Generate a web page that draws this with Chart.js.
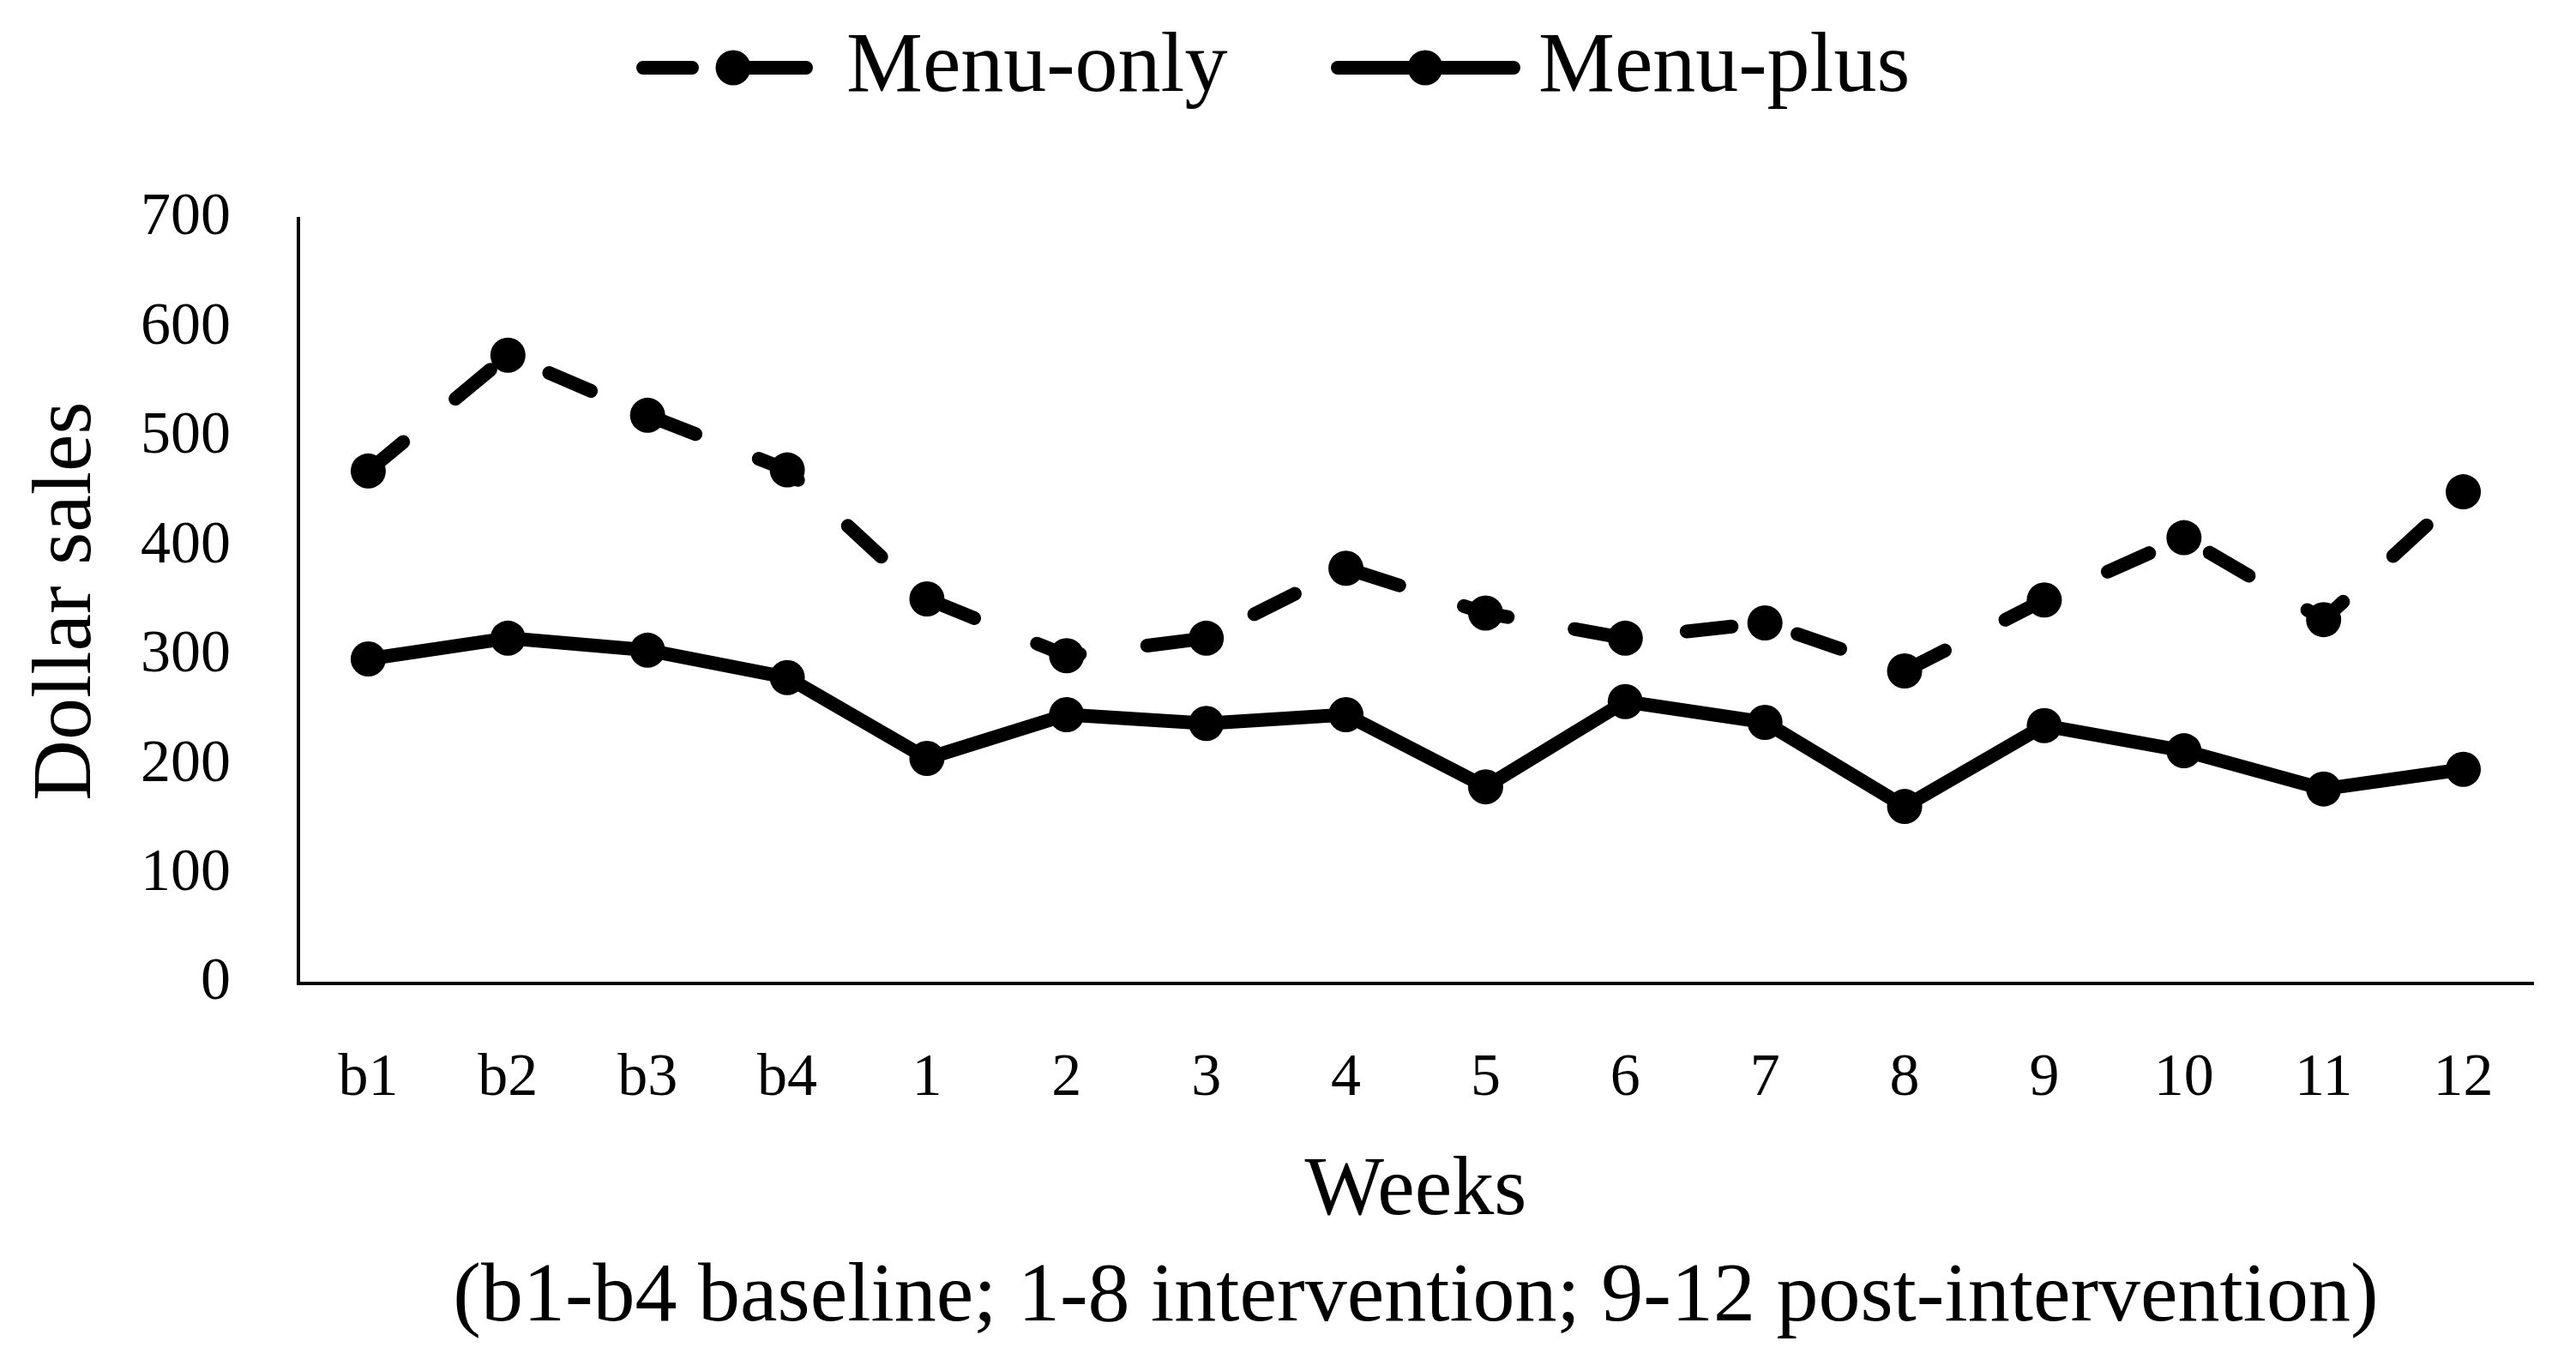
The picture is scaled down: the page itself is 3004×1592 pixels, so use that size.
<!DOCTYPE html>
<html>
<head>
<meta charset="utf-8">
<script src="https://cdn.jsdelivr.net/npm/chart.js@4.4.1/dist/chart.umd.min.js"></script>
<style>
  html, body { margin: 0; padding: 0; background: #ffffff; }
  #wrap { width: 3004px; height: 1592px; }
</style>
</head>
<body>
<div id="wrap"><canvas id="c" width="3004" height="1592"></canvas></div>
<script>
// ---- data ----
const weeks = ['b1', 'b2', 'b3', 'b4', '1', '2', '3', '4', '5', '6', '7', '8', '9', '10', '11', '12'];
const menuOnly = [469, 575, 520, 470, 352, 300, 316, 380, 339, 316, 330, 286, 351, 408, 333, 450];
const menuPlus = [297, 316, 305, 280, 206, 246, 238, 246, 180, 258, 239, 162, 236, 213, 178, 196];
const seriesNames = ['Menu-only', 'Menu-plus'];
const yMin = 0, yMax = 700, yStep = 100;
const xTitle = ['Weeks', '(b1-b4 baseline; 1-8 intervention; 9-12 post-intervention)'];
const yTitle = 'Dollar sales';

// ---- style ----
const FONT = '"Liberation Serif", "Times New Roman", serif';
const INK = '#000000';

// legend drawn from the datasets' own styles
const legendPlugin = {
  id: 'sampleLegend',
  afterDraw(chart) {
    const ctx = chart.ctx;
    const slots = [
      { x0: 750, x1: 940, mx: 855, tx: 987, cut: [807, 872] },
      { x0: 1560, x1: 1765, mx: 1662, tx: 1794, cut: null }
    ];
    const y = 79;
    ctx.save();
    chart.data.datasets.forEach((ds, i) => {
      const s = slots[i];
      ctx.strokeStyle = ds.borderColor;
      ctx.lineWidth = ds.borderWidth;
      ctx.lineCap = 'round';
      ctx.setLineDash([]);
      ctx.beginPath();
      if (s.cut) {
        ctx.moveTo(s.x0, y); ctx.lineTo(s.cut[0], y);
        ctx.moveTo(s.cut[1], y); ctx.lineTo(s.x1, y);
      } else {
        ctx.moveTo(s.x0, y); ctx.lineTo(s.x1, y);
      }
      ctx.stroke();
      ctx.fillStyle = ds.pointBackgroundColor;
      ctx.beginPath();
      ctx.arc(s.mx, y, ds.pointRadius, 0, Math.PI * 2);
      ctx.fill();
      ctx.font = '100px ' + FONT;
      ctx.fillStyle = INK;
      ctx.textAlign = 'left';
      ctx.textBaseline = 'alphabetic';
      ctx.fillText(ds.label, s.tx, 106);
    });
    ctx.restore();
  }
};

const chart = new Chart(document.getElementById('c'), {
  type: 'line',
  data: {
    labels: weeks,
    datasets: [
      {
        label: seriesNames[0],
        data: menuOnly,
        borderColor: INK,
        backgroundColor: INK,
        borderWidth: 16,
        borderDash: [53, 79],
        borderCapStyle: 'round',
        borderJoinStyle: 'round',
        pointRadius: 20.5,
        pointBorderWidth: 0,
        pointBackgroundColor: INK,
        pointBorderColor: INK,
        tension: 0,
        fill: false
      },
      {
        label: seriesNames[1],
        data: menuPlus,
        borderColor: INK,
        backgroundColor: INK,
        borderWidth: 16,
        borderCapStyle: 'round',
        borderJoinStyle: 'round',
        pointRadius: 20.5,
        pointBorderWidth: 0,
        pointBackgroundColor: INK,
        pointBorderColor: INK,
        tension: 0,
        fill: false
      }
    ]
  },
  options: {
    responsive: false,
    animation: false,
    devicePixelRatio: 1,
    layout: { padding: { left: 0, top: 255, right: 50, bottom: 0 } },
    plugins: {
      legend: { display: false },
      tooltip: { enabled: false },
      title: { display: false }
    },
    scales: {
      x: {
        type: 'category',
        offset: true,
        grid: { display: false, drawTicks: false },
        border: { display: true, color: INK, width: 4 },
        ticks: {
          color: INK,
          font: { family: FONT, size: 70 },
          padding: 70,
          maxRotation: 0,
          autoSkip: false
        },
        title: {
          display: true,
          text: xTitle,
          color: INK,
          font: { family: FONT, size: 98, lineHeight: 1.265 },
          padding: { top: 0, bottom: 16 }
        },
        afterFit(scale) { scale.height = 445; }
      },
      y: {
        min: yMin,
        max: yMax,
        grid: { display: false, drawTicks: false },
        border: { display: true, color: INK, width: 4 },
        ticks: {
          stepSize: yStep,
          color: INK,
          font: { family: FONT, size: 70 },
          padding: 79
        },
        title: {
          display: true,
          text: yTitle,
          color: INK,
          font: { family: FONT, size: 98, lineHeight: 1.2 },
          padding: { top: 20, bottom: 0 }
        },
        afterFit(scale) { scale.width = 348; }
      }
    }
  },
  plugins: [legendPlugin]
});
</script>
</body>
</html>
